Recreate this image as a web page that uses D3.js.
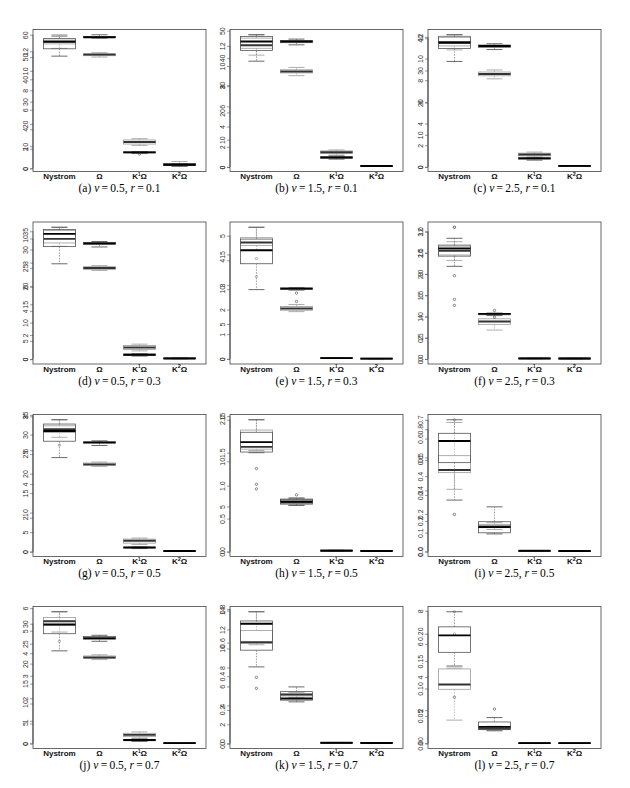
<!DOCTYPE html>
<html>
<head>
<meta charset="utf-8">
<script src="https://cdn.jsdelivr.net/npm/d3@7"></script>
<style>
  body { margin: 0; background: #fff; }
  svg { display: block; }
</style>
</head>
<body>
<svg id="chart" width="630" height="788"></svg>
<script>
// categories along the x axis of every panel
const categories = ["Nystrom", "Ω", "K¹Ω", "K²Ω"];

// panel captions
const panelLetters = ["a","b","c","d","e","f","g","h","i","j","k","l"];
const nuValues = ["0.5","1.5","2.5","0.5","1.5","2.5","0.5","1.5","2.5","0.5","1.5","2.5"];
const rValues  = ["0.1","0.1","0.1","0.3","0.3","0.3","0.5","0.5","0.5","0.7","0.7","0.7"];

// two overlaid boxplots per panel, each with its own left axis
const ticksA = [
  ["0","10","20","30","40","50","60"],
  ["0","10","20","30","40","50"],
  ["0","10","20","30","40"],
  ["0","5","10","15","20","25","30","35"],
  ["0","1","2","3","4","5"],
  ["0.0","0.5","1.0","1.5","2.0","2.5","3.0"],
  ["0","5","10","15","20","25","30","35"],
  ["0.0","0.5","1.0","1.5","2.0"],
  ["0.0","0.1","0.2","0.3","0.4","0.5","0.6","0.7"],
  ["0","5","10","15","20","25","30"],
  ["0","2","4","6","8","10","12","14"],
  ["0.00","0.05","0.10","0.15","0.20"]
];
const ticksB = [
  ["0","2","4","6","8","10","12"],
  ["0","2","4","6","8","10","12"],
  ["0","2","4","6","8","10","12"],
  ["0","2","4","6","8","10"],
  ["0","5","10","15"],
  ["0","2","4","6","8","10","12"],
  ["0","2","4","6","8"],
  ["0","5","10","15"],
  ["0.0","0.2","0.4","0.6","0.8"],
  ["0","1","2","3","4","5","6"],
  ["0.0","0.2","0.4","0.6","0.8"],
  ["0","2","4","6","8"]
];

// [lower whisker, Q1, median, Q3, upper whisker] for Nystrom, Ω, K¹Ω, K²Ω
const statsA = [
  [[50.4,53.7,57.0,58.2,59.4],[58.5,58.8,58.9,59.2,60.0],[6.7,7.0,7.2,7.5,7.6],[1.0,1.35,1.65,1.95,2.2]],
  [[38.8,42.7,46.0,47.9,48.5],[44.8,45.6,46.0,46.4,46.9],[2.86,3.23,3.48,3.73,3.98],[0.25,0.3,0.35,0.4,0.45]],
  [[32.8,36.8,38.8,40.4,41.1],[36.5,37.2,37.6,37.9,38.3],[2.1,2.43,2.65,2.86,2.96],[0.2,0.25,0.3,0.35,0.4]],
  [[26.1,30.8,34.3,35.5,36.1],[30.7,31.4,31.7,31.9,32.2],[0.83,1.02,1.2,1.39,1.48],[0.1,0.15,0.2,0.25,0.3]],
  [[2.81,3.86,4.41,4.86,5.34],[2.79,2.82,2.85,2.88,2.89],[0.02,0.025,0.03,0.035,0.04],[0.005,0.008,0.01,0.012,0.015]],
  [[2.18,2.42,2.6,2.68,2.84],[1.02,1.04,1.06,1.07,1.08],[0.005,0.008,0.01,0.012,0.015],[0.004,0.006,0.008,0.01,0.012]],
  [[24.1,28.3,30.9,32.7,33.8],[27.2,27.8,28.0,28.1,28.4],[0.78,0.96,1.05,1.13,1.22],[0.1,0.13,0.15,0.17,0.2]],
  [[1.50,1.51,1.66,1.81,2.0],[0.7,0.72,0.76,0.79,0.81],[0.005,0.008,0.01,0.012,0.015],[0.004,0.006,0.008,0.01,0.012]],
  [[0.273,0.472,0.587,0.628,0.70],[0.093,0.099,0.129,0.158,0.237],[0.002,0.0025,0.003,0.0035,0.004],[0.001,0.0015,0.002,0.0025,0.003]],
  [[23.2,27.5,29.8,30.7,33.0],[25.6,26.1,26.4,26.8,27.1],[0.51,0.68,0.85,1.02,1.1],[0.05,0.065,0.08,0.095,0.11]],
  [[8.06,9.82,12.6,12.9,13.87],[4.37,4.55,4.73,5.45,5.95],[0.03,0.04,0.05,0.06,0.07],[0.01,0.02,0.03,0.04,0.05]],
  [[0.141,0.166,0.197,0.2125,0.24],[0.024,0.026,0.03,0.039,0.047],[0.0003,0.0004,0.0005,0.0006,0.0007],[0.0002,0.0003,0.0004,0.0005,0.0006]]
];
const outliersA = [
  [[],[],[6.45],[]],
  [[],[],[],[]],
  [[],[],[],[]],
  [[],[],[],[]],
  [[],[2.67,2.33],[],[]],
  [[3.1,1.96,1.4,1.26],[1.14,0.98],[],[]],
  [[],[],[],[]],
  [[1.26,1.02,0.95],[0.86],[],[]],
  [[0.197],[],[],[]],
  [[],[],[],[]],
  [[6.95,5.8],[],[],[]],
  [[0.084],[0.0625],[],[]]
];
const statsB = [
  [[12.3,12.76,12.97,13.3,13.7],[11.41,11.55,11.66,11.76,11.86],[2.34,2.48,2.69,2.9,3.03],[0.2,0.31,0.38,0.48,0.69]],
  [[11.08,11.76,12.06,12.77,13.1],[9.05,9.32,9.46,9.63,9.86],[1.18,1.35,1.45,1.59,1.69],[0.07,0.09,0.1,0.11,0.12]],
  [[10.8,11.17,11.43,12.06,12.2],[8.13,8.41,8.57,8.76,8.95],[0.89,1.02,1.14,1.27,1.37],[0.06,0.07,0.08,0.09,0.1]],
  [[9.35,9.63,9.97,10.65,10.93],[7.35,7.44,7.55,7.66,7.75],[0.68,0.79,0.96,1.13,1.24],[0.03,0.04,0.05,0.06,0.07]],
  [[15.6,16.3,16.7,17.4,18.9],[6.78,6.98,7.22,7.51,7.8],[0.08,0.09,0.1,0.11,0.12],[0.01,0.015,0.02,0.025,0.03]],
  [[9.28,9.79,10.18,10.62,11.04],[2.72,3.26,3.52,3.78,4.16],[0.03,0.04,0.05,0.06,0.07],[0.02,0.03,0.04,0.05,0.06]],
  [[6.76,7.04,7.24,7.44,7.8],[5.04,5.1,5.16,5.24,5.3],[0.42,0.5,0.64,0.74,0.8],[0.02,0.025,0.03,0.035,0.04]],
  [[11.2,11.35,11.6,13.46,14.6],[5.15,5.3,5.46,5.85,5.96],[0.1,0.12,0.15,0.18,0.2],[0.05,0.07,0.09,0.11,0.13]],
  [[0.407,0.516,0.533,0.627,0.844],[0.144,0.156,0.164,0.178,0.189],[0.003,0.004,0.005,0.006,0.007],[0.002,0.003,0.004,0.005,0.006]],
  [[4.94,5.24,5.42,5.59,5.84],[3.72,3.78,3.81,3.88,3.93],[0.24,0.3,0.38,0.45,0.51],[0.008,0.012,0.015,0.018,0.022]],
  [[0.587,0.596,0.602,0.672,0.783],[0.274,0.283,0.291,0.298,0.304],[0.003,0.004,0.005,0.006,0.007],[0.002,0.003,0.004,0.005,0.006]],
  [[1.4,3.26,3.55,4.49,4.54],[0.74,0.82,0.87,0.95,1.03],[0.005,0.008,0.01,0.012,0.015],[0.004,0.006,0.008,0.01,0.012]]
];
const outliersB = [
  [[],[],[],[]],
  [[],[],[],[]],
  [[],[],[],[]],
  [[],[],[],[]],
  [[14.4,11.8],[],[],[]],
  [[12.4],[],[],[]],
  [[6.3],[],[],[]],
  [[],[],[],[]],
  [[0.862],[],[],[]],
  [[4.53],[],[],[]],
  [[],[],[],[]],
  [[6.6,7.94],[],[],[]]
];

// layout
const colLeft = [33, 230, 428];
const rowTop = [29.5, 222, 414.5, 606.5];
const pw = 173, ph = 142;

// gray series drawn first, black one on top
const looks = [
  {box: "#9a9a9a", med: "#333", whisk: "#aaa", cap: "#999", pt: "#888"},
  {box: "#555", med: "#000", whisk: "#777", cap: "#444", pt: "#444"}
];

const svg = d3.select("#chart");
svg.append("rect").attr("width", 630).attr("height", 788).attr("fill", "#fff");

function addCategory(text, label) {
  let raised = false;
  for (const ch of label) {
    const sup = ch === "¹" || ch === "²";
    const t = text.append("tspan").text(sup ? (ch === "¹" ? "1" : "2") : ch);
    if (sup) { t.attr("dy", -3.2).attr("font-size", ch === "¹" ? 4.5 : 5.5); raised = true; }
    else if (raised) { t.attr("dy", 3.2); raised = false; }
  }
}

panelLetters.forEach((letter, p) => {
  const left = colLeft[p % 3], top = rowTop[Math.floor(p / 3)];
  const bottom = top + ph;
  const g = svg.append("g").attr("class", "panel-" + letter);

  const x = d3.scaleLinear().domain([0.34, 4.66]).range([left, left + pw]);
  const hw = x(1.4) - x(1);

  const series = [
    {stats: statsB[p], outs: outliersB[p], ticks: ticksB[p], look: looks[0]},
    {stats: statsA[p], outs: outliersA[p], ticks: ticksA[p], look: looks[1]}
  ];

  series.forEach(s => {
    const ext = d3.extent(s.stats.flat().concat(s.outs.flat()));
    const pad = (ext[1] - ext[0]) * 0.04;
    const y = d3.scaleLinear().domain([ext[0] - pad, ext[1] + pad]).range([bottom, top]);
    const L = s.look;

    s.stats.forEach((b, i) => {
      const cx = x(i + 1);
      const [lw, q1, med, q3, uw] = b;
      const bx = g.append("g");
      // whiskers
      bx.append("line").attr("x1", cx).attr("x2", cx).attr("y1", y(q3)).attr("y2", y(uw))
        .attr("stroke", L.whisk).attr("stroke-width", 0.7).attr("stroke-dasharray", "1.6,1.2");
      bx.append("line").attr("x1", cx).attr("x2", cx).attr("y1", y(q1)).attr("y2", y(lw))
        .attr("stroke", L.whisk).attr("stroke-width", 0.7).attr("stroke-dasharray", "1.6,1.2");
      // staples
      [lw, uw].forEach(v => {
        bx.append("line").attr("x1", cx - hw / 2).attr("x2", cx + hw / 2)
          .attr("y1", y(v)).attr("y2", y(v))
          .attr("stroke", L.cap).attr("stroke-width", 0.8);
      });
      // box
      bx.append("rect").attr("x", cx - hw).attr("width", 2 * hw)
        .attr("y", y(q3)).attr("height", Math.max(0.1, y(q1) - y(q3)))
        .attr("fill", "none").attr("stroke", L.box).attr("stroke-width", 0.8);
      // median
      bx.append("line").attr("x1", cx - hw).attr("x2", cx + hw)
        .attr("y1", y(med)).attr("y2", y(med))
        .attr("stroke", L.med).attr("stroke-width", 1.9);
      // outliers
      s.outs[i].forEach(v => {
        bx.append("circle").attr("cx", cx).attr("cy", y(v)).attr("r", 1.2)
          .attr("fill", "none").attr("stroke", L.pt).attr("stroke-width", 0.6);
      });
    });

    // left axis, R style: line only between first and last tick, labels turned
    const dom = y.domain();
    const shown = s.ticks.filter(t => +t >= dom[0] && +t <= dom[1]);
    const labelOf = new Map(shown.map(t => [+t, t]));
    const ax = g.append("g").attr("transform", `translate(${left},0)`)
      .call(d3.axisLeft(y).tickValues(shown.map(Number))
        .tickFormat(d => labelOf.get(d)).tickSize(3).tickSizeOuter(0));
    ax.select(".domain").remove();
    ax.append("line").attr("x1", 0).attr("x2", 0)
      .attr("y1", y(+shown[0])).attr("y2", y(+shown[shown.length - 1]))
      .attr("stroke", "#555").attr("stroke-width", 0.6);
    ax.selectAll(".tick line").attr("stroke", "#555").attr("stroke-width", 0.6);
    ax.selectAll(".tick text")
      .attr("x", 0).attr("dy", 0)
      .attr("transform", "translate(-5.5,0) rotate(-90)")
      .attr("text-anchor", "middle")
      .attr("fill", "#333")
      .attr("font-family", "'Liberation Sans', Arial, sans-serif")
      .attr("font-size", 7);
  });

  // frame
  g.append("rect").attr("x", left).attr("y", top).attr("width", pw).attr("height", ph)
    .attr("fill", "none").attr("stroke", "#444").attr("stroke-width", 0.8);

  // category labels
  categories.forEach((c, i) => {
    const t = g.append("text").attr("x", x(i + 1)).attr("y", bottom + 7.5)
      .attr("text-anchor", "middle")
      .attr("font-family", "'Liberation Sans', Arial, sans-serif")
      .attr("font-weight", "bold").attr("font-size", 8).attr("fill", "#111");
    addCategory(t, c);
  });

  // caption, math spacing round the equals signs
  const cap = g.append("text").attr("x", left + pw / 2).attr("y", bottom + 20.5)
    .attr("text-anchor", "middle")
    .attr("font-family", "'Liberation Serif', 'Times New Roman', serif")
    .attr("font-size", 11.5).attr("fill", "#000")
    .attr("xml:space", "preserve");
  cap.append("tspan").text(`(${letter}) `);
  cap.append("tspan").attr("font-style", "italic").text("ν");
  cap.append("tspan").text(`\u2009=\u2009${nuValues[p]}, `);
  cap.append("tspan").attr("font-style", "italic").text("r");
  cap.append("tspan").text(`\u2009=\u2009${rValues[p]}`);
});
</script>
</body>
</html>
